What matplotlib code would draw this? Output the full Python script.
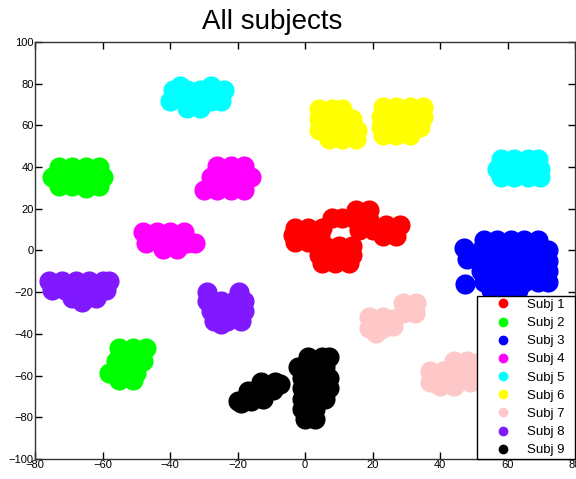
import matplotlib
matplotlib.use('Agg')
import matplotlib.pyplot as plt
from matplotlib.lines import Line2D

plt.rcParams['font.family'] = ['Liberation Sans', 'DejaVu Sans']

# Embedded points per subject (x, y)
subj1 = [(-3, 11), (1, 11), (5, 11), (-3.5, 7.5), (0.5, 7.5), (4.5, 7.5), (-3, 4), (1, 4),
         (6, 2), (10, 2), (14, 2), (4, -2), (8, -2), (12, -2), (14, -2), (5, -6), (9, -6), (13, -6),
         (8, 15.5), (11, 15.5), (15, 19.5), (19, 19.5), (15, 14.5), (19, 14.5), (16, 10), (20, 10),
         (24, 12), (28, 12), (23, 7), (27, 7)]
subj2 = [(-73, 40), (-69, 40), (-65, 40), (-61, 40), (-75, 35), (-71, 35), (-67, 35), (-63, 35), (-60, 35),
         (-73, 31), (-69, 31), (-65, 30), (-61, 31),
         (-55, -47), (-51, -47), (-47, -47), (-56, -53), (-52, -53), (-48, -53),
         (-58, -59), (-54, -59), (-50, -59), (-55, -62), (-51, -62)]
subj3 = [(53, 5), (57, 5), (61, 5), (65, 5), (69, 5),
         (52, 0), (56, 0), (60, 0), (64, 0), (68, 0), (72, 0),
         (52, -5), (56, -5), (60, -5), (64, -5), (68, -5), (72, -5),
         (52, -10), (56, -10), (60, -10), (64, -10), (68, -10), (72, -10),
         (53, -15), (57, -15), (61, -15), (65, -15), (69, -15), (72, -15),
         (55, -19), (59, -19), (63, -19), (47, 1), (48, -4), (47.5, -16)]
subj4 = [(-26, 40.5), (-22, 40.5), (-18, 40.5), (-28, 35), (-24, 35), (-20, 35), (-16, 35),
         (-30, 29), (-26, 29), (-22, 29), (-18, 29),
         (-48, 9), (-44, 9), (-40, 9), (-36, 9), (-47, 3.5), (-43, 3.5), (-39, 3.5), (-35, 3.5),
         (-32.5, 3.5), (-42, 0.5), (-38, 0.5)]
subj5 = [(-39, 77), (-35, 77), (-31, 77), (-27, 77), (-24, 77), (-40, 71.5), (-36, 71.5), (-32, 71.5),
         (-28, 71.5), (-25, 71.5), (-35, 68.5), (-31, 68.5), (-37, 79), (-28, 79),
         (58, 44), (62, 44), (66, 44), (69, 44), (57, 39), (61, 39), (65, 39), (69.5, 39),
         (58, 35), (62, 35), (66, 35), (69.5, 35)]
subj6 = [(4, 68), (8, 68), (11, 68), (4, 63), (8, 63), (12, 63), (14, 63), (4, 58), (8, 58), (12, 58),
         (15.5, 58), (7, 53.5), (11, 53.5), (15, 53.5),
         (23, 69), (27, 69), (31, 69), (35, 69), (22.5, 64), (26.5, 64), (30.5, 64), (35, 64),
         (22.5, 59), (26.5, 59), (30.5, 59), (34, 59), (23, 55.5), (27, 55.5), (31, 55.5)]
subj7 = [(29, -25), (33, -25), (29, -30), (32.5, -30), (19, -32), (23, -32), (26, -33),
         (19, -37), (23, -37), (26, -36), (21, -39.5),
         (44, -53), (48, -53), (52, -53), (37, -58), (41, -58), (45, -58), (49, -58), (53, -58),
         (37, -63), (41, -63), (45, -63), (49, -63), (40, -65), (44, -65)]
subj8 = [(-76, -14.5), (-72, -14.5), (-68, -14.5), (-64, -14.5), (-60, -14.5), (-58, -14.5),
         (-75, -19), (-71, -19), (-67, -19), (-63, -19), (-59, -19), (-69, -23), (-65, -23),
         (-62, -23), (-66, -24.5),
         (-29, -20), (-19.5, -20), (-29, -24), (-25, -24), (-21, -24), (-18, -24),
         (-28, -29), (-24, -29), (-20, -29), (-18, -29), (-27, -34), (-23, -34), (-19, -34), (-25, -35.5)]
subj9 = [(-13, -63), (-9, -63), (-7.5, -64), (-17, -67.5), (-13, -67.5), (-9.5, -67),
         (-20, -72), (-16, -72), (-12.5, -71), (-19, -73),
         (1, -51), (5, -51), (7, -51), (-2, -56), (2, -56), (6, -56), (-1, -61), (3, -61), (7, -61),
         (-1, -66), (3, -66), (7, -66), (-1, -71), (3, -71), (6, -71), (-1, -76), (3, -76),
         (0, -81), (3, -81)]

subjects = [subj1, subj2, subj3, subj4, subj5, subj6, subj7, subj8, subj9]
labels = ['Subj 1', 'Subj 2', 'Subj 3', 'Subj 4', 'Subj 5', 'Subj 6', 'Subj 7', 'Subj 8', 'Subj 9']
colors = ['#ff0000', '#00ff00', '#0000ff', '#ff00ff', '#00ffff', '#ffff00', '#ffc8c8', '#8019ff', '#000000']

fig = plt.figure(figsize=(5.76, 4.79), dpi=100)
ax = fig.add_axes([0.0608, 0.0418, 0.9375, 0.8706])

for pts, c in zip(subjects, colors):
    xs = [p[0] for p in pts]
    ys = [p[1] for p in pts]
    ax.scatter(xs, ys, s=210, c=c, marker='o', linewidths=0)

ax.set_xlim(-80, 80)
ax.set_ylim(-100, 100)
ax.set_xticks(range(-80, 81, 20))
ax.set_yticks(range(-100, 101, 20))
ax.tick_params(direction='in', top=True, right=True, labelsize=8, length=5, width=1, pad=1)
for s in ax.spines.values():
    s.set_linewidth(1)
    s.set_color('#333333')

ax.set_title('All subjects', fontsize=20, pad=9, x=0.439)

handles = [Line2D([], [], linestyle='none', marker='o', ms=6, color=c) for c in colors]
leg = ax.legend(handles, labels, loc='lower left', bbox_to_anchor=(0.8185, 0, 0.1815, 0.39),
                mode='expand', fontsize=9.5, frameon=True, fancybox=False,
                edgecolor='black', framealpha=1, borderaxespad=0, handletextpad=0.05,
                labelspacing=0.45, borderpad=0.2, handlelength=3.55)
leg.get_frame().set_linewidth(1)

fig.savefig('out.png', dpi=100)
